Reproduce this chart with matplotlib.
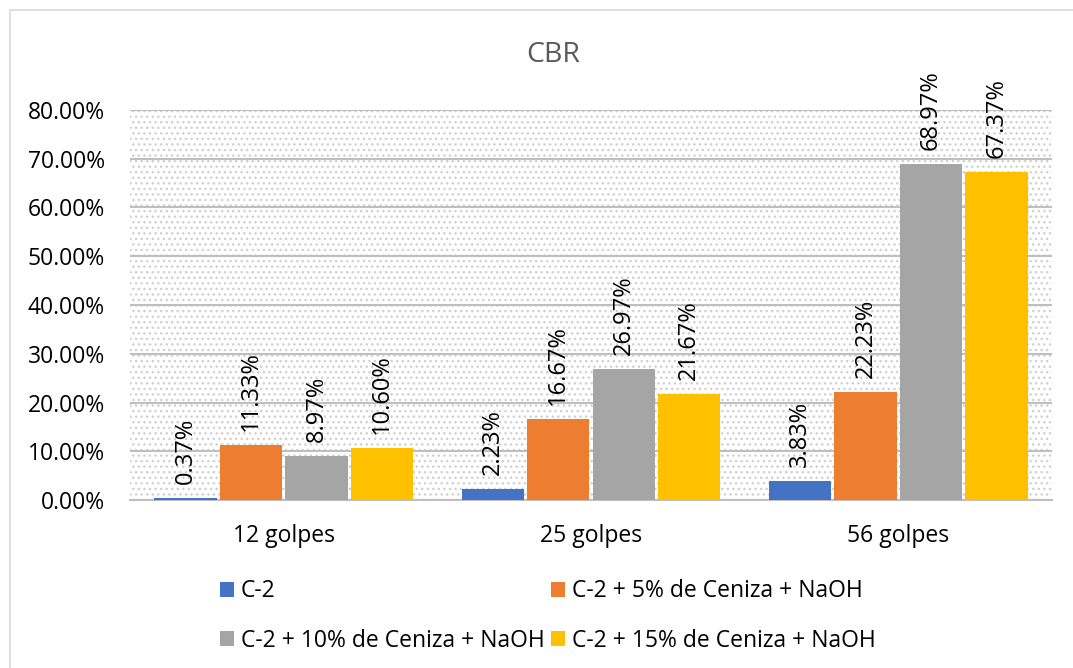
import matplotlib
matplotlib.use("Agg")
import matplotlib.pyplot as plt
import numpy as np
from matplotlib.patches import Rectangle
from matplotlib.ticker import FuncFormatter

categories = ["12 golpes", "25 golpes", "56 golpes"]
series_names = ["C-2", "C-2 + 5% de Ceniza + NaOH",
                "C-2 + 10% de Ceniza + NaOH", "C-2 + 15% de Ceniza + NaOH"]
c2 = [0.0037, 0.0223, 0.0383]
c2_5 = [0.1133, 0.1667, 0.2223]
c2_10 = [0.0897, 0.2697, 0.6897]
c2_15 = [0.1060, 0.2167, 0.6737]
colors = ["#4472C4", "#ED7D31", "#A5A5A5", "#FFC000"]

plt.rcParams['font.family'] = ['Open Sans', 'DejaVu Sans']
plt.rcParams['hatch.color'] = '#d0d0d0'
plt.rcParams['hatch.linewidth'] = 1.0

FS = 16.5

fig = plt.figure(figsize=(10.73, 6.68), dpi=100)
# outer chart border
fig.patches.append(Rectangle((10/1073, -0.1), 1.2, 1 - 10/668 + 0.1,
                             transform=fig.transFigure, fill=False,
                             edgecolor='#d9d9d9', linewidth=1.2))

ax = fig.add_axes([130/1073, 1 - 500/668, 922/1073, 390/668])
ax.patch.set_facecolor('white')
ax.patch.set_hatch('...')
ax.patch.set_edgecolor('#d0d0d0')
ax.patch.set_linewidth(0)

x = np.arange(len(categories))
slot = 0.213
width = 0.203
all_series = [c2, c2_5, c2_10, c2_15]
for i, (vals, name, col) in enumerate(zip(all_series, series_names, colors)):
    pos = x + (i - 1.5) * slot
    bars = ax.bar(pos, vals, width=width, color=col, label=name, zorder=3)
    for b, v in zip(bars, vals):
        ax.annotate(f"{v*100:.2f}%", (b.get_x() + b.get_width()/2, v),
                    xytext=(0, 10), textcoords='offset points',
                    rotation=90, ha='center', va='bottom',
                    fontsize=17, color='#000000', zorder=4)

ax.set_xlim(-0.5, 2.5)
ax.set_ylim(0, 0.8)
ax.set_yticks(np.arange(0, 0.81, 0.1))
ax.yaxis.set_major_formatter(FuncFormatter(lambda v, p: f"{v*100:.2f}%"))
ax.set_xticks(x)
ax.set_xticklabels(categories)
ax.tick_params(axis='both', length=0, labelsize=FS, colors='#000000')
ax.tick_params(axis='y', pad=18)
ax.tick_params(axis='x', pad=17)
ax.grid(axis='y', color='#bfbfbf', linewidth=1.5, zorder=1)
ax.set_axisbelow(True)
for s in ['top', 'right', 'left']:
    ax.spines[s].set_visible(False)
ax.spines['bottom'].set_color('#bfbfbf')
ax.spines['bottom'].set_linewidth(1.5)

fig.text(553/1073, 1 - 55/668, "CBR", ha='center', va='center',
         fontsize=20.5, color='#595959')

handles, labels = ax.get_legend_handles_labels()
order = [0, 2, 1, 3]
leg = fig.legend([handles[k] for k in order], [labels[k] for k in order],
                 ncol=2, loc='center',
                 bbox_to_anchor=(548/1073, 1 - 616/668),
                 frameon=False, fontsize=FS, handlelength=0.6,
                 handleheight=0.6, handletextpad=0.3,
                 columnspacing=0.3, labelspacing=1.1)

fig.savefig("out.png", dpi=100)
